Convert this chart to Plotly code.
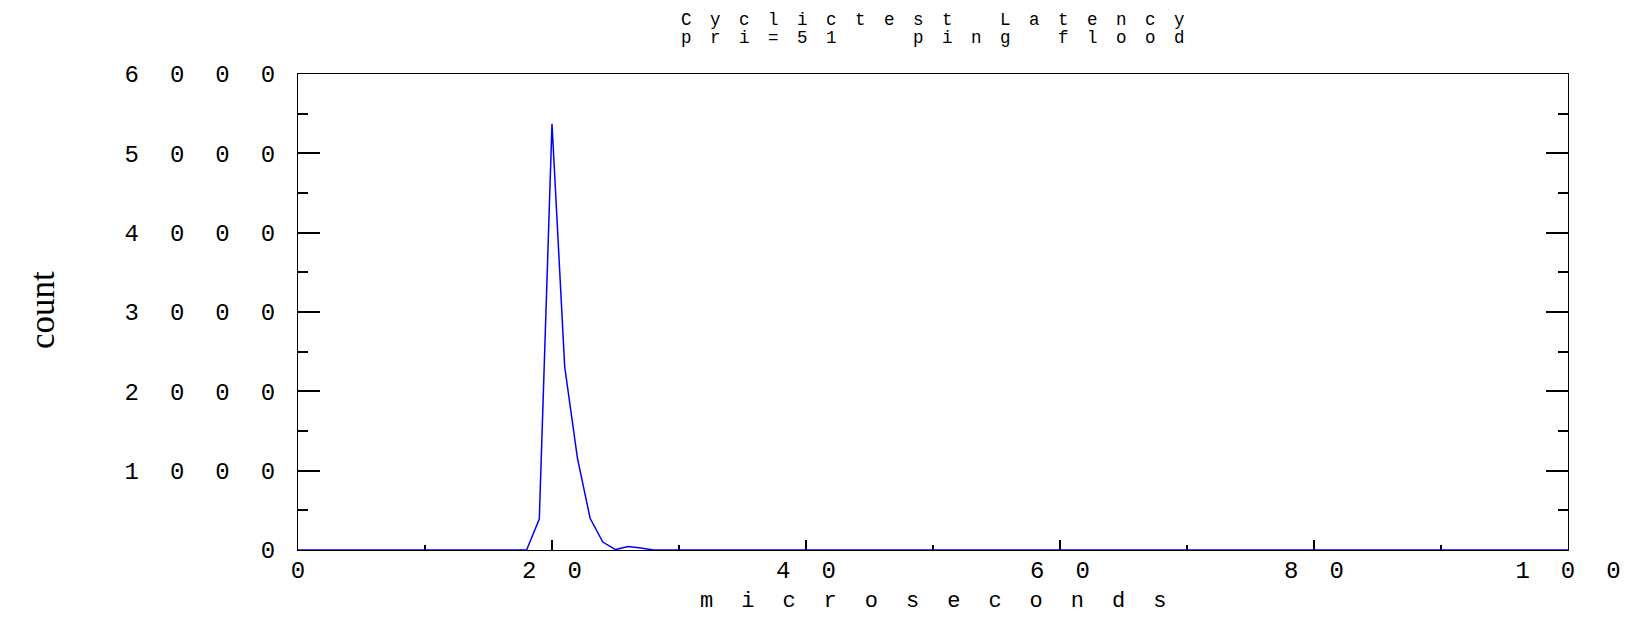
import plotly.graph_objects as go

# ---- data ----
x_us = list(range(0, 101))
counts = [
    0, 0, 0, 0, 0, 0, 0, 0, 0, 0,
    0, 0, 0, 0, 0, 0, 0, 0, 0, 390,
    5372, 2310, 1160, 400, 100, 5, 45, 25, 0, 0,
    0, 0, 0, 0, 0, 0, 0, 0, 0, 0,
    0, 0, 0, 0, 0, 0, 0, 0, 0, 0,
    0, 0, 0, 0, 0, 0, 0, 0, 0, 0,
    0, 0, 0, 0, 0, 0, 0, 0, 0, 0,
    0, 0, 0, 0, 0, 0, 0, 0, 0, 0,
    0, 0, 0, 0, 0, 0, 0, 0, 0, 0,
    0, 0, 0, 0, 0, 0, 0, 0, 0, 0,
    0,
]
x_tick_vals = [0, 20, 40, 60, 80, 100]
x_tick_labels = ["0", "20", "40", "60", "80", "100"]
x_minor_vals = [10, 30, 50, 70, 90]
y_tick_vals = [0, 1000, 2000, 3000, 4000, 5000, 6000]
y_tick_labels = ["0", "1000", "2000", "3000", "4000", "5000", "6000"]
title_line1 = "Cyclictest Latency"
title_line2 = "pri=51 \u00a0ping flood"
x_title = "microseconds"
y_title = "count"

# ---- style ----
MONO = "Liberation Mono"
SERIF = "Liberation Serif"
TICK_LS = 31
TITLE_LS = 18.5
XT_LS = 28


def spaced(t, ls):
    # wide letter spacing, but none after the last character
    if len(t) < 2:
        return t
    return f'<span style="letter-spacing:{ls}px">{t[:-1]}</span>{t[-1]}'


fig = go.Figure()
fig.add_trace(go.Scatter(
    x=x_us, y=counts, mode="lines",
    line=dict(color="#0000ff", width=1.5),
    cliponaxis=False, showlegend=False, hoverinfo="skip",
))

tickfont = dict(family=MONO, size=24, color="black")

# page body has an 8px margin, so the figure is sized/offset to compensate
fig.update_layout(
    width=1622, height=609,
    margin=dict(l=290, r=62, t=66, b=67, autoexpand=False),
    paper_bgcolor="white", plot_bgcolor="white",
    xaxis=dict(
        range=[0, 100], showgrid=False, zeroline=False,
        showline=True, linecolor="black", linewidth=1, mirror=True,
        ticks="inside", ticklen=10, tickcolor="black", tickwidth=1.5,
        tickvals=x_tick_vals,
        ticktext=[spaced(t, TICK_LS) for t in x_tick_labels],
        tickfont=tickfont,
        ticklabelstandoff=-2, ticklabeloverflow="allow", automargin=False,
        minor=dict(tickvals=x_minor_vals, ticks="inside", ticklen=5,
                   tickcolor="black", tickwidth=1.5, showgrid=False),
        layer="below traces",
    ),
    yaxis=dict(
        range=[0, 6000], showgrid=False, zeroline=False,
        showline=True, linecolor="black", linewidth=1, mirror="ticks",
        ticks="inside", ticklen=22, tickcolor="black", tickwidth=1.5,
        tickvals=y_tick_vals,
        ticktext=[spaced(t, TICK_LS) for t in y_tick_labels],
        tickfont=tickfont, ticklabeloverflow="allow", automargin=False,
        ticklabelstandoff=17,
        minor=dict(dtick=500, ticks="inside", ticklen=10,
                   tickcolor="black", tickwidth=1.5, showgrid=False),
        layer="below traces",
    ),
    annotations=[
        dict(text=spaced(title_line1, TITLE_LS), xref="paper", yref="paper",
             x=0.5, y=1, xanchor="center", yanchor="middle",
             yshift=54, showarrow=False,
             font=dict(family=MONO, size=17.5, color="black")),
        dict(text=spaced(title_line2, TITLE_LS), xref="paper", yref="paper",
             x=0.5, y=1, xanchor="center", yanchor="middle",
             yshift=36, showarrow=False,
             font=dict(family=MONO, size=17.5, color="black")),
        dict(text=spaced(x_title, XT_LS), xref="paper", yref="paper",
             x=0.5, y=0, xanchor="center", yanchor="middle",
             yshift=-51, showarrow=False,
             font=dict(family=MONO, size=22, color="black")),
        dict(text=y_title, xref="paper", yref="paper", textangle=-90,
             x=0, y=0.5, xanchor="center", yanchor="middle",
             xshift=-256, yshift=2, showarrow=False,
             font=dict(family=SERIF, size=35, color="black")),
    ],
)

fig.write_html("out.html")
